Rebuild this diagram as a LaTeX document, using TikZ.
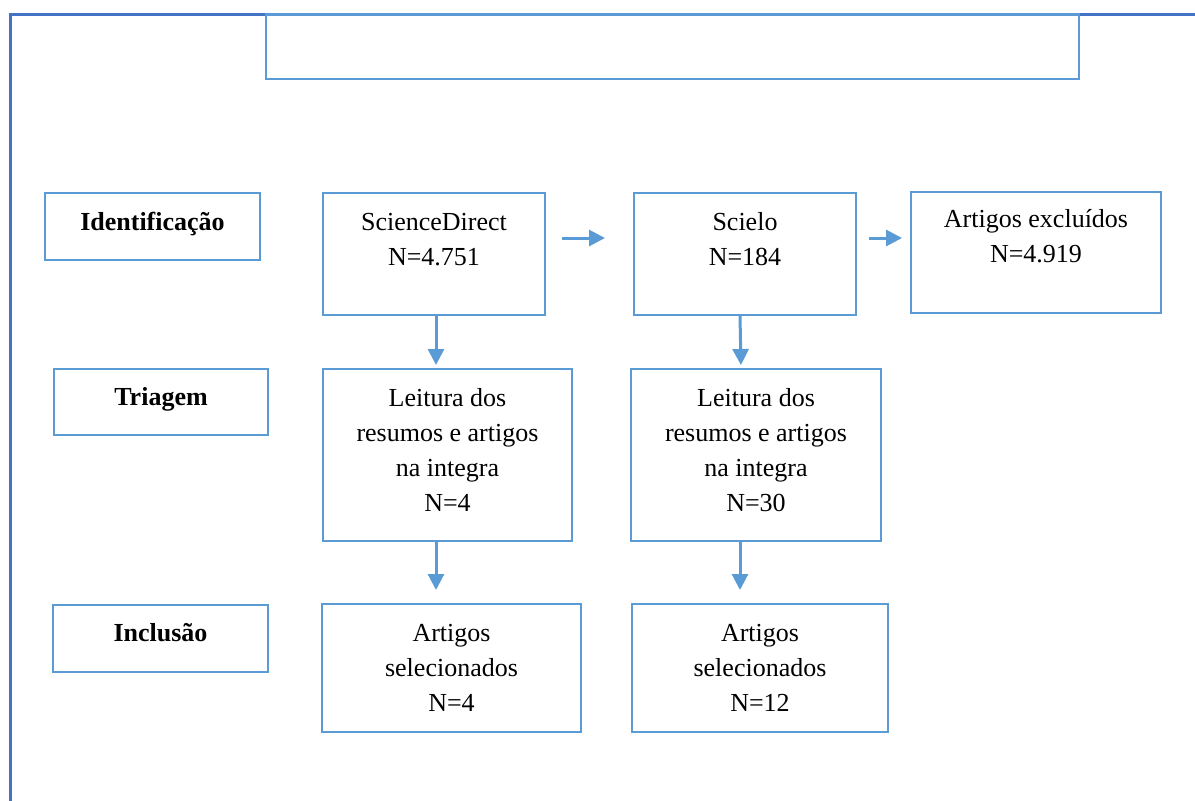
\documentclass[tikz,border=0pt]{standalone}
\usepackage{fontspec}
\setmainfont{Liberation Serif}
\usetikzlibrary{arrows.meta}
\definecolor{boxblue}{HTML}{5B9BD5}
\definecolor{frameblue}{HTML}{4472C4}
\newcommand\fl{\rule{0pt}{20pt}}
\tikzset{
  box/.style={draw=boxblue, line width=2.9pt, inner sep=0pt, outer sep=0pt, fill=none},
  txt/.style={anchor=north, inner sep=0pt, outer sep=0pt, align=center, font=\fontsize{26}{35}\selectfont},
  btxt/.style={txt, font=\fontsize{26}{35}\selectfont\bfseries},
  arr/.style={draw=boxblue, line width=3pt, -{Triangle[length=16pt,width=16pt]}},
  frameline/.style={draw=frameblue, line width=3.2pt}
}
\begin{document}
\begin{tikzpicture}[x=1pt,y=-1pt]
\useasboundingbox (0,0) rectangle (1195,801);
% outer frame
\draw[frameline] (10.5,801) -- (10.5,14.5) -- (1195,14.5);
% title box
\node[box, minimum width=813pt, minimum height=64.5pt] (title) at (672.5,46.75) {};
% boxes
\node[box, minimum width=215pt, minimum height=67pt] (id) at (152.5,226.5) {};
\node[box, minimum width=222pt, minimum height=122pt] (sd) at (434,254) {};
\node[box, minimum width=222pt, minimum height=122pt] (sc) at (745,254) {};
\node[box, minimum width=250pt, minimum height=121pt] (ex) at (1036,252.5) {};
\node[box, minimum width=214pt, minimum height=66pt] (tr) at (161,402) {};
\node[box, minimum width=249pt, minimum height=172pt] (lt1) at (447.5,455) {};
\node[box, minimum width=250pt, minimum height=172pt] (lt2) at (756,455) {};
\node[box, minimum width=215pt, minimum height=67pt] (inc) at (160.5,638.5) {};
\node[box, minimum width=259pt, minimum height=128pt] (sl1) at (451.5,668) {};
\node[box, minimum width=256pt, minimum height=128pt] (sl2) at (760,668) {};
% texts
\node[btxt] (tid) at (152.5,210) {\fl Identificação};
\node[txt] (tsd) at (434,210) {\fl ScienceDirect\\N=4.751};
\node[txt] (tsc) at (745,210) {\fl Scielo\\N=184};
\node[txt] (tex) at (1036,207) {\fl Artigos excluídos\\N=4.919};
\node[btxt] (ttr) at (161,385) {\fl Triagem};
\node[txt] (tlt1) at (447.5,386) {\fl Leitura dos\\resumos e artigos\\na integra\\N=4};
\node[txt] (tlt2) at (756,386) {\fl Leitura dos\\resumos e artigos\\na integra\\N=30};
\node[btxt] (tinc) at (160.5,621) {\fl Inclusão};
\node[txt] (tsl1) at (451.5,621) {\fl Artigos\\selecionados\\N=4};
\node[txt] (tsl2) at (760,621) {\fl Artigos\\selecionados\\N=12};
% arrows
\draw[arr, shorten <=17pt, shorten >=29pt] (sd.east |- 0,238) -- (sc.west |- 0,238);
\draw[arr, shorten <=13pt, shorten >=9pt] (sc.east |- 0,238) -- (ex.west |- 0,238);
\draw[arr, shorten >=4pt] (sd.south -| 436,0) -- (lt1.north -| 436,0);
\draw[arr, shorten >=4pt] (sc.south -| 740,0) -- (lt2.north -| 741,0);
\draw[arr, shorten >=14pt] (lt1.south -| 436,0) -- (sl1.north -| 436,0);
\draw[arr, shorten >=14pt] (lt2.south -| 740,0) -- (sl2.north -| 740,0);
\end{tikzpicture}
\end{document}
